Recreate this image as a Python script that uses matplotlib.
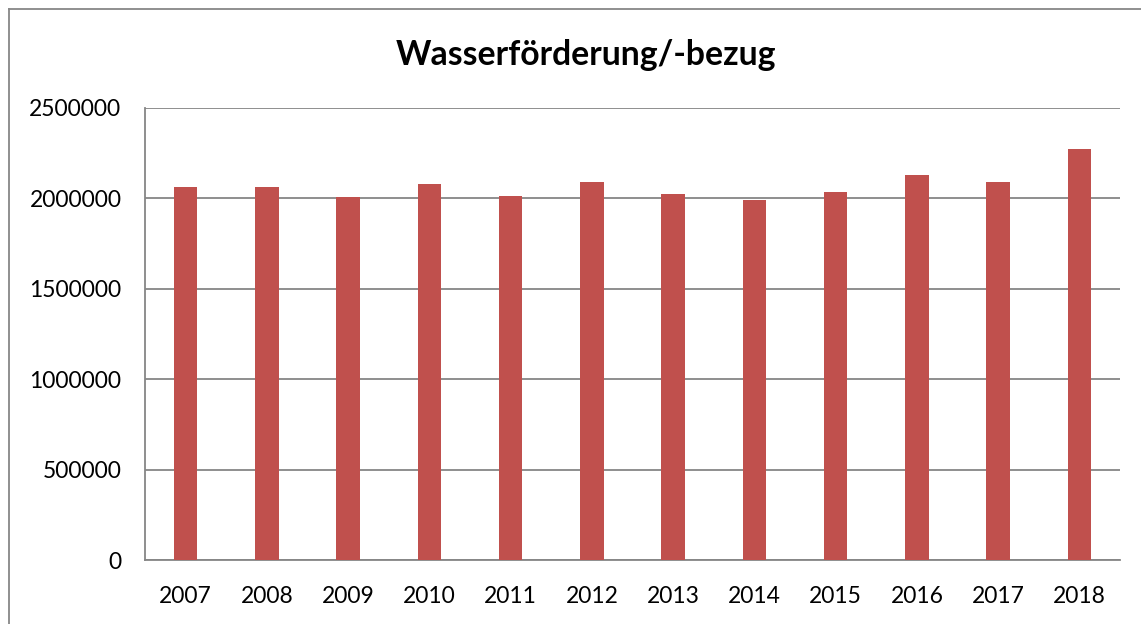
import matplotlib.pyplot as plt
from matplotlib.lines import Line2D

years = ["2007", "2008", "2009", "2010", "2011", "2012",
         "2013", "2014", "2015", "2016", "2017", "2018"]
volume = [2064000, 2064000, 2007000, 2079000, 2013000, 2092000,
          2022000, 1992000, 2033000, 2130000, 2090000, 2271000]
yticks = [0, 500000, 1000000, 1500000, 2000000, 2500000]

W, H = 1141, 624
plt.rcParams['font.family'] = ['Lato', 'DejaVu Sans']

fig = plt.figure(figsize=(W / 100, H / 100), dpi=100)
ax = fig.add_axes([145 / W, (H - 560.3) / H, 975 / W, 452.5 / H])

ax.bar(range(len(years)), volume, width=0.29, color="#C0504D", zorder=3)
ax.set_xlim(-0.5, len(years) - 0.5)
ax.set_ylim(0, 2500000)
ax.set_yticks(yticks)
ax.set_yticklabels([str(v) for v in yticks])
ax.set_xticks(range(len(years)))
ax.set_xticklabels(years)

ax.grid(axis='y', color="#868686", linewidth=1.3, zorder=0)
ax.tick_params(axis='both', length=0, labelsize=16.5, colors="black")
ax.tick_params(axis='y', pad=17)
ax.tick_params(axis='x', pad=18.5)
for s in ['top', 'right']:
    ax.spines[s].set_visible(False)
for s in ['left', 'bottom']:
    ax.spines[s].set_color("#868686")
    ax.spines[s].set_linewidth(1.3)

fig.text(586 / W, 1 - 55 / H, "Wasserförderung/-bezug", ha='center', va='center',
         fontsize=24.3, fontweight='bold')

# chart frame (cut at right and bottom)
fig.add_artist(Line2D([8.5 / W, 1], [1 - 8.5 / H] * 2, color="#878787", linewidth=1.3,
                      transform=fig.transFigure))
fig.add_artist(Line2D([8.5 / W] * 2, [0, 1 - 8.5 / H], color="#878787", linewidth=1.3,
                      transform=fig.transFigure))

fig.savefig("out.png", dpi=100)
